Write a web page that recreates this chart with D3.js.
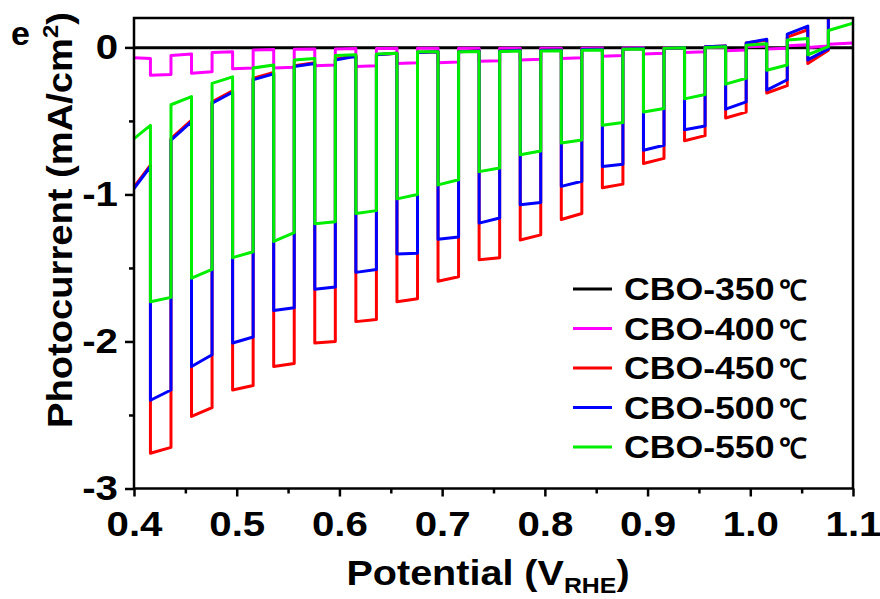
<!DOCTYPE html>
<html><head><meta charset="utf-8">
<script src="https://cdn.jsdelivr.net/npm/d3@7"></script>
<style>
body{margin:0;background:#fff;}
svg text{font-family:"Liberation Sans",Arial,sans-serif;font-weight:bold;fill:#000;}
</style></head>
<body><svg id="c" width="880" height="599"></svg>
<script>
const seriesNames = ["CBO-350","CBO-400","CBO-450","CBO-500","CBO-550"];
const seriesColors = ["#000000","#ff00ff","#ff0000","#0000ff","#00ee00"];
const xTicks = [0.4,0.5,0.6,0.7,0.8,0.9,1.0,1.1];
const xMinorTicks = [0.45,0.55,0.65,0.75,0.85,0.95,1.05];
const yTicks = [0,-1,-2,-3];
const yMinorTicks = [-0.5,-1.5,-2.5];

// chopped illumination: light-on / light-off potentials (V vs RHE)
const lightOn  = [0.416,0.456,0.496,0.536,0.576,0.616,0.656,0.696,0.736,0.776,0.816,0.856,0.896,0.936,0.976,1.016,1.056];
const lightOff = [0.436,0.476,0.516,0.556,0.596,0.636,0.676,0.716,0.756,0.796,0.836,0.876,0.916,0.956,0.996,1.036,1.076];

// CBO-350 (flat, ~0)
const cbo350V = [0.40,0.60,0.80,1.00,1.10];
const cbo350J = [-0.003,-0.003,-0.002,-0.002,-0.002];

// CBO-400
const cbo400DarkStart = [-0.07,-0.055,-0.035,-0.018,-0.012,-0.01,-0.008,-0.006,-0.005,-0.005,-0.005,-0.005,-0.004,-0.003,0.0,0.005,0.012,0.022];
const cbo400DarkEnd   = [-0.075,-0.045,-0.03,-0.015,-0.01,-0.008,-0.006,-0.005,-0.005,-0.005,-0.005,-0.004,-0.003,-0.001,0.003,0.008,0.018,0.03];
const cbo400LightStart= [-0.19,-0.175,-0.145,-0.14,-0.125,-0.13,-0.11,-0.105,-0.095,-0.085,-0.075,-0.06,-0.045,-0.035,-0.022,-0.01,0.0];
const cbo400LightEnd  = [-0.185,-0.165,-0.14,-0.135,-0.12,-0.125,-0.105,-0.10,-0.09,-0.08,-0.07,-0.055,-0.04,-0.03,-0.018,-0.005,0.01];
const cbo400EndV = 1.10;

// CBO-450
const cbo450DarkStart = [-0.95,-0.62,-0.37,-0.21,-0.125,-0.08,-0.05,-0.035,-0.03,-0.025,-0.02,-0.015,-0.01,-0.005,0.005,0.03,0.07,0.28];
const cbo450DarkEnd   = [-0.80,-0.495,-0.295,-0.17,-0.105,-0.055,-0.04,-0.03,-0.025,-0.02,-0.018,-0.012,-0.008,-0.002,0.01,0.05,0.12,0.40];
const cbo450LightStart= [-2.76,-2.51,-2.33,-2.17,-2.01,-1.865,-1.73,-1.59,-1.445,-1.31,-1.17,-0.955,-0.79,-0.635,-0.48,-0.31,-0.11];
const cbo450LightEnd  = [-2.72,-2.45,-2.30,-2.15,-2.00,-1.85,-1.71,-1.56,-1.43,-1.275,-1.13,-0.93,-0.755,-0.60,-0.44,-0.26,-0.02];
const cbo450EndV = 1.082;

// CBO-500
const cbo500DarkStart = [-0.96,-0.63,-0.38,-0.22,-0.13,-0.085,-0.05,-0.035,-0.03,-0.025,-0.02,-0.015,-0.01,-0.005,0.005,0.03,0.09,0.30];
const cbo500DarkEnd   = [-0.81,-0.505,-0.305,-0.18,-0.11,-0.06,-0.04,-0.03,-0.025,-0.02,-0.018,-0.012,-0.008,-0.002,0.01,0.055,0.145,0.45];
const cbo500LightStart= [-2.40,-2.17,-2.01,-1.79,-1.645,-1.53,-1.405,-1.305,-1.195,-1.07,-0.945,-0.81,-0.70,-0.56,-0.42,-0.29,-0.085];
const cbo500LightEnd  = [-2.33,-2.09,-1.97,-1.77,-1.63,-1.51,-1.40,-1.29,-1.16,-1.055,-0.91,-0.795,-0.665,-0.535,-0.37,-0.22,-0.01];
const cbo500EndV = 1.082;

// CBO-550
const cbo550DarkStart = [-0.62,-0.39,-0.245,-0.14,-0.085,-0.055,-0.045,-0.03,-0.03,-0.028,-0.025,-0.02,-0.012,-0.005,0.0,0.015,0.05,0.115];
const cbo550DarkEnd   = [-0.53,-0.335,-0.20,-0.12,-0.075,-0.05,-0.04,-0.03,-0.028,-0.025,-0.022,-0.018,-0.01,-0.003,0.005,0.025,0.06,0.165];
const cbo550LightStart= [-1.73,-1.57,-1.43,-1.32,-1.20,-1.13,-1.03,-0.935,-0.845,-0.73,-0.65,-0.53,-0.44,-0.35,-0.25,-0.155,-0.05];
const cbo550LightEnd  = [-1.70,-1.51,-1.39,-1.26,-1.185,-1.11,-1.00,-0.90,-0.82,-0.705,-0.63,-0.51,-0.415,-0.32,-0.21,-0.12,0.005];
const cbo550EndV = 1.10;

function chopped(ds, de, ls, le, endV){
  const pts = [];
  for(let k=0;k<ds.length;k++){
    const x0 = k===0 ? 0.40 : lightOff[k-1];
    const x1 = k<lightOn.length ? lightOn[k] : endV;
    pts.push([x0, ds[k]],[x1, de[k]]);
    if(k<lightOn.length){ pts.push([lightOn[k], ls[k]],[lightOff[k], le[k]]); }
  }
  return pts;
}

const seriesData = [
  cbo350V.map((v,i)=>[v,cbo350J[i]]),
  chopped(cbo400DarkStart,cbo400DarkEnd,cbo400LightStart,cbo400LightEnd,cbo400EndV),
  chopped(cbo450DarkStart,cbo450DarkEnd,cbo450LightStart,cbo450LightEnd,cbo450EndV),
  chopped(cbo500DarkStart,cbo500DarkEnd,cbo500LightStart,cbo500LightEnd,cbo500EndV),
  chopped(cbo550DarkStart,cbo550DarkEnd,cbo550LightStart,cbo550LightEnd,cbo550EndV)
];

const svg = d3.select("#c");
const L=134, R=853, T=18, B=488.5;
const x = d3.scaleLinear().domain([0.4,1.1]).range([L,R]);
const y = d3.scaleLinear().domain([-3,0.2]).range([B,T]);

svg.append("defs").append("clipPath").attr("id","clip")
  .append("rect").attr("x",L).attr("y",T).attr("width",R-L).attr("height",B-T);

const line = d3.line().x(d=>x(d[0])).y(d=>y(d[1]));
const g = svg.append("g").attr("clip-path","url(#clip)");
seriesData.forEach((d,i)=>{
  g.append("path").datum(d).attr("d",line).attr("fill","none")
   .attr("stroke",seriesColors[i]).attr("stroke-width", 3)
   .attr("stroke-linejoin","round");
});

// frame
svg.append("rect").attr("x",L).attr("y",T).attr("width",R-L).attr("height",B-T)
  .attr("fill","none").attr("stroke","#000").attr("stroke-width",2.5);

const fs = 35, sx = 1.15;
const xAxis = svg.append("g").attr("transform",`translate(0,${B})`)
  .call(d3.axisBottom(x).tickValues(xTicks).tickFormat(d3.format(".1f")).tickSize(8).tickSizeOuter(0).tickPadding(15));
const xMin = svg.append("g").attr("transform",`translate(0,${B})`)
  .call(d3.axisBottom(x).tickValues(xMinorTicks).tickFormat("").tickSize(5).tickSizeOuter(0));
const yAxis = svg.append("g").attr("transform",`translate(${L},0)`)
  .call(d3.axisLeft(y).tickValues(yTicks).tickFormat(d=>String(d)).tickSize(9).tickSizeOuter(0).tickPadding(7));
const yMin = svg.append("g").attr("transform",`translate(${L},0)`)
  .call(d3.axisLeft(y).tickValues(yMinorTicks).tickFormat("").tickSize(5).tickSizeOuter(0));
[xAxis,xMin,yAxis,yMin].forEach(a=>{
  a.select(".domain").remove();
  a.selectAll(".tick line").attr("stroke","#000").attr("stroke-width",2.5);
  a.selectAll("text").attr("font-size",fs).attr("font-family","Liberation Sans, Arial, sans-serif").attr("font-weight","bold").attr("fill","#000");
});
xAxis.selectAll(".tick text").attr("transform",`scale(${sx},1)`);
yAxis.selectAll(".tick text").attr("x",-16/sx).attr("transform",`scale(${sx},1)`);

// axis titles
const xt = svg.append("text").attr("transform","translate(488,585) scale(1.13,1)").attr("text-anchor","middle").attr("font-size",fs);
xt.append("tspan").text("Potential (V");
xt.append("tspan").text("RHE").attr("font-size",22).attr("dy",8);
xt.append("tspan").text(")").attr("dy",-8);

const yt = svg.append("text").attr("transform","translate(72,220) rotate(-90) scale(1.09,1)").attr("text-anchor","middle").attr("font-size",fs);
yt.append("tspan").text("Photocurrent (mA/cm");
yt.append("tspan").text("2").attr("font-size",22).attr("dy",-14);
yt.append("tspan").text(")").attr("dy",14);

svg.append("text").attr("x",11).attr("y",45).attr("font-size",34).text("e");

// legend
const legY0 = 289, legDy = 39.5;
seriesNames.forEach((n,i)=>{
  const yy = legY0 + i*legDy;
  svg.append("line").attr("x1",573).attr("x2",612).attr("y1",yy).attr("y2",yy)
    .attr("stroke",seriesColors[i]).attr("stroke-width",3);
  svg.append("text").attr("transform",`translate(624,${yy+11}) scale(1.15,1)`).attr("font-size",31).text(n);
  svg.append("text").attr("x",779).attr("y",yy+11).attr("font-weight","normal")
    .attr("font-family","Noto Sans CJK SC").attr("font-size",28).text("℃");
});
</script></body></html>
